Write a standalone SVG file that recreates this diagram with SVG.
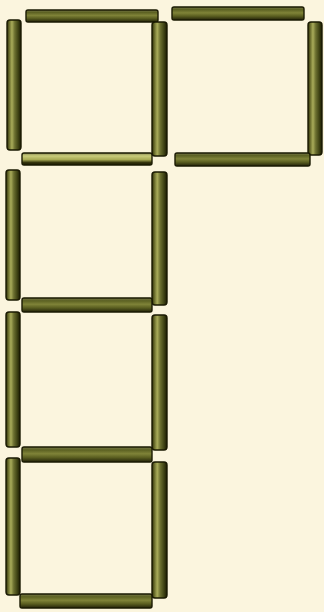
<svg xmlns="http://www.w3.org/2000/svg" width="324" height="612" viewBox="0 0 324 612">
<defs>
<linearGradient id="gv" x1="0" y1="0" x2="1" y2="0">
<stop offset="0" stop-color="#2c2c06"/>
<stop offset="0.18" stop-color="#6f7230"/>
<stop offset="0.35" stop-color="#a9ac5a"/>
<stop offset="0.55" stop-color="#6c7030"/>
<stop offset="0.8" stop-color="#3f4314"/>
<stop offset="1" stop-color="#1a1a02"/>
</linearGradient>
<linearGradient id="gh" x1="0" y1="0" x2="0" y2="1">
<stop offset="0" stop-color="#77784a"/>
<stop offset="0.2" stop-color="#5c6122"/>
<stop offset="0.45" stop-color="#7f8338"/>
<stop offset="0.7" stop-color="#5a5e20"/>
<stop offset="1" stop-color="#23230a"/>
</linearGradient>
<linearGradient id="gl" x1="0" y1="0" x2="0" y2="1">
<stop offset="0" stop-color="#8a8a55"/>
<stop offset="0.25" stop-color="#c9cc7a"/>
<stop offset="0.55" stop-color="#a8ab55"/>
<stop offset="0.8" stop-color="#30300a"/>
<stop offset="1" stop-color="#1a1a02"/>
</linearGradient>
</defs>
<style>
.v{fill:url(#gv);stroke:#1a1a02;stroke-width:1.4}
.h{fill:url(#gh);stroke:#1a1a02;stroke-width:1.4}
.l{fill:url(#gl);stroke:#1a1a02;stroke-width:1.4}
</style>
<rect width="324" height="612" fill="#fbf5de"/>
<g id="sticks">
<!-- square 1 -->
<rect class="h" x="26" y="10" width="132" height="12" rx="2"/>
<rect class="v" x="7" y="20" width="14" height="130" rx="3"/>
<rect class="v" x="152" y="22" width="15" height="134" rx="3"/>
<rect class="l" x="22" y="153" width="130" height="12" rx="2"/>
<!-- square 2 -->
<rect class="h" x="172" y="7" width="132" height="13" rx="2"/>
<rect class="v" x="308" y="22" width="14" height="133" rx="3"/>
<rect class="h" x="175" y="153" width="135" height="13" rx="2"/>
<!-- square 3 -->
<rect class="v" x="6" y="170" width="14" height="130" rx="3"/>
<rect class="v" x="152" y="172" width="15" height="133" rx="3"/>
<rect class="h" x="22" y="298" width="130" height="14" rx="2"/>
<!-- square 4 -->
<rect class="v" x="6" y="312" width="14" height="135" rx="3"/>
<rect class="v" x="152" y="315" width="15" height="135" rx="3"/>
<rect class="h" x="22" y="447" width="130" height="15" rx="2"/>
<!-- square 5 -->
<rect class="v" x="6" y="458" width="14" height="137" rx="3"/>
<rect class="v" x="152" y="462" width="15" height="136" rx="3"/>
<rect class="h" x="20" y="594" width="132" height="14" rx="2"/>
</g>
</svg>
